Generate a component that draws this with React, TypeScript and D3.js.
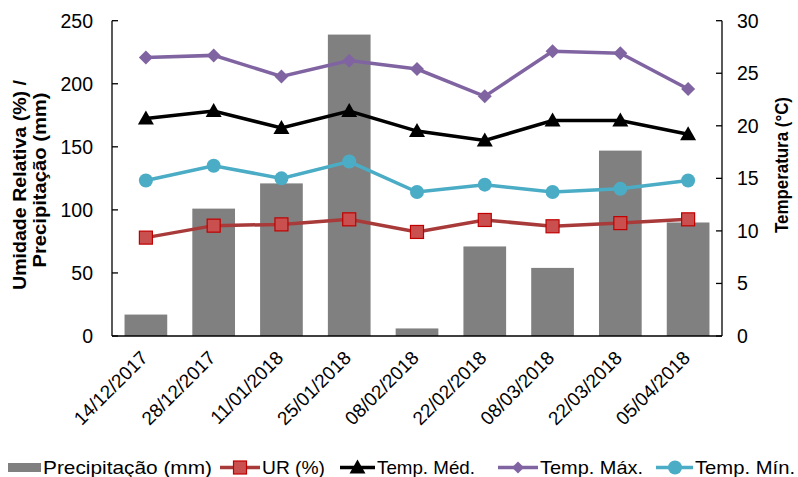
import React from "react";
import * as d3 from "d3";

const categories = ["14/12/2017","28/12/2017","11/01/2018","25/01/2018","08/02/2018","22/02/2018","08/03/2018","22/03/2018","05/04/2018"];
const precip = [17, 101, 121, 239, 6, 71, 54, 147, 90];
const ur = [78, 87.5, 88.5, 92.5, 82.5, 92, 87, 89.5, 92.5];
const tMed = [20.7, 21.4, 19.8, 21.4, 19.5, 18.6, 20.5, 20.5, 19.2];
const tMax = [26.5, 26.7, 24.7, 26.2, 25.4, 22.8, 27.1, 26.9, 23.5];
const tMin = [14.8, 16.2, 15.0, 16.6, 13.7, 14.4, 13.7, 14.0, 14.8];
const leftTicks = [0, 50, 100, 150, 200, 250];
const rightTicks = [0, 5, 10, 15, 20, 25, 30];

const W = 798, H = 477;
const L = 112, R = 722, T = 20.7, B = 336;
const font = "'Liberation Sans', Arial, sans-serif";

export default function App() {
  const x = d3.scaleBand<string>().domain(categories).range([L, R]).paddingInner(0.37).paddingOuter(0.185);
  const xc = (i: number) => (x(categories[i]) as number) + x.bandwidth() / 2;
  const yL = d3.scaleLinear().domain([0, 250]).range([B, T]);
  const yR = d3.scaleLinear().domain([0, 30]).range([B, T]);
  const line = d3.line<number>();

  const mk = (vals: number[], y: d3.ScaleLinear<number, number>) =>
    line(vals.map((v, i) => [xc(i), y(v)]) as any) as string;

  const diamond = (cx: number, cy: number, s = 7, k?: any) => (
    <path key={k} d={`M${cx},${cy - s}L${cx + s},${cy}L${cx},${cy + s}L${cx - s},${cy}Z`} fill="#8064a2" />
  );
  const tri = (cx: number, cy: number, k?: any) => (
    <path key={k} d={`M${cx},${cy - 8}L${cx + 8},${cy + 6}L${cx - 8},${cy + 6}Z`} fill="#000" />
  );
  const sq = (cx: number, cy: number, k?: any) => (
    <rect key={k} x={cx - 6.5} y={cy - 6.5} width={13} height={13} fill="#c9504f" stroke="#c00000" strokeWidth={1.2} />
  );
  const circ = (cx: number, cy: number, k?: any) => <circle key={k} cx={cx} cy={cy} r={7} fill="#4bacc6" />;

  const legY = 467.5;
  const legBase = 473.5;
  const lenAdj = { lengthAdjust: "spacingAndGlyphs" as const };
  return (
    <svg width={W} height={H} style={{ position: "absolute", left: 0, top: 0, background: "#fff" }} fontFamily={font}>
      {/* bars */}
      {precip.map((v, i) => (
        <rect key={i} x={x(categories[i])} y={yL(v)} width={x.bandwidth()} height={B - yL(v)} fill="#808080" />
      ))}
      {/* axes */}
      <line x1={L} y1={T} x2={L} y2={B} stroke="#000" strokeWidth={1.3} />
      <line x1={R} y1={T} x2={R} y2={B} stroke="#000" strokeWidth={1.3} />
      <line x1={L} y1={B} x2={R} y2={B} stroke="#000" strokeWidth={1.3} />
      {leftTicks.map((t) => (
        <g key={t}>
          <line x1={L} x2={L + 6} y1={yL(t)} y2={yL(t)} stroke="#000" strokeWidth={1.3} />
          <text x={93} y={yL(t)} dy="0.35em" textAnchor="end" fontSize={19.5}>{t}</text>
        </g>
      ))}
      {rightTicks.map((t) => (
        <g key={t}>
          <line x1={R - 6} x2={R} y1={yR(t)} y2={yR(t)} stroke="#000" strokeWidth={1.3} />
          <text x={737} y={yR(t)} dy="0.35em" textAnchor="start" fontSize={19.5}>{t}</text>
        </g>
      ))}
      {categories.map((c, i) => (
        <text key={c} transform={`translate(${xc(i) + 3},${359}) rotate(-45)`} textAnchor="end" fontSize={19}>{c}</text>
      ))}
      {/* axis titles */}
      <text transform={`translate(26,185) rotate(-90)`} textAnchor="middle" fontSize={19} fontWeight="bold" textLength={210} {...lenAdj}>Umidade Relativa (%) /</text>
      <text transform={`translate(46,180) rotate(-90)`} textAnchor="middle" fontSize={19} fontWeight="bold" textLength={175} {...lenAdj}>Precipitação (mm)</text>
      <text transform={`translate(788,165) rotate(-90)`} textAnchor="middle" fontSize={18} fontWeight="bold" textLength={136} {...lenAdj}>Temperatura (°C)</text>
      {/* lines */}
      <path d={mk(ur, yL)} fill="none" stroke="#a83a3a" strokeWidth={3.5} />
      {ur.map((v, i) => sq(xc(i), yL(v), i))}
      <path d={mk(tMed, yR)} fill="none" stroke="#000" strokeWidth={3.5} />
      {tMed.map((v, i) => tri(xc(i), yR(v), i))}
      <path d={mk(tMax, yR)} fill="none" stroke="#8064a2" strokeWidth={3.5} />
      {tMax.map((v, i) => diamond(xc(i), yR(v), 7, i))}
      <path d={mk(tMin, yR)} fill="none" stroke="#4bacc6" strokeWidth={3.5} />
      {tMin.map((v, i) => circ(xc(i), yR(v), i))}
      {/* legend */}
      <g fontSize={18.5}>
        <rect x={8} y={legY - 4.5} width={33} height={9} fill="#808080" />
        <text x={43} y={legBase} textLength={169} {...lenAdj}>Precipitação (mm)</text>
        <line x1={220} x2={260} y1={legY} y2={legY} stroke="#a83a3a" strokeWidth={3.5} />
        {sq(240, legY)}
        <text x={262} y={legBase} textLength={63} {...lenAdj}>UR (%)</text>
        <line x1={340} x2={375} y1={legY} y2={legY} stroke="#000" strokeWidth={3.5} />
        {tri(357.5, legY)}
        <text x={377} y={legBase} textLength={98} {...lenAdj}>Temp. Méd.</text>
        <line x1={498} x2={538} y1={legY} y2={legY} stroke="#8064a2" strokeWidth={3.5} />
        {diamond(518, legY, 6)}
        <text x={540} y={legBase} textLength={103} {...lenAdj}>Temp. Máx.</text>
        <line x1={656} x2={693} y1={legY} y2={legY} stroke="#4bacc6" strokeWidth={3.5} />
        {circ(675, legY)}
        <text x={695} y={legBase} textLength={100} {...lenAdj}>Temp. Mín.</text>
      </g>
    </svg>
  );
}
